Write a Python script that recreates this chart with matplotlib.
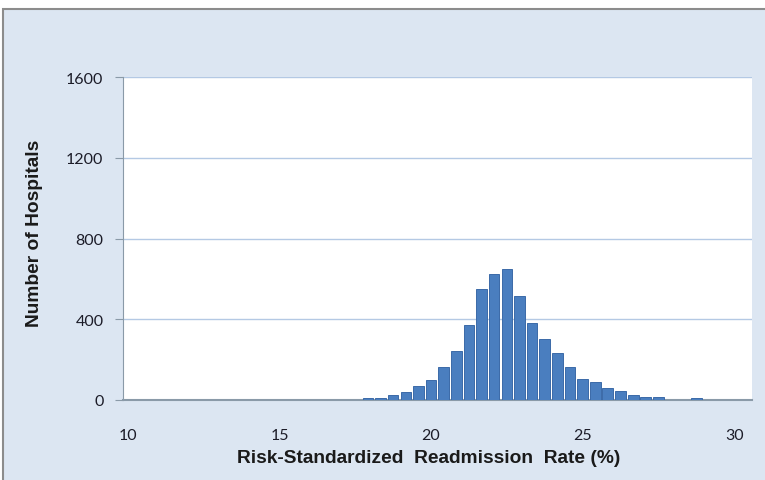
import matplotlib.pyplot as plt
from matplotlib.patches import Rectangle

# histogram bins (bin centre, % readmission) and counts
bin_centers = [17.92, 18.33, 18.75, 19.17, 19.58, 20.00, 20.42, 20.83, 21.25,
               21.67, 22.08, 22.50, 22.92, 23.33, 23.75, 24.17, 24.58, 25.00,
               25.42, 25.83, 26.25, 26.67, 27.08, 27.50, 27.92, 28.33, 28.75]
counts = [12, 12, 25, 40, 70, 100, 165, 245, 370,
          550, 625, 650, 515, 380, 300, 231, 165, 102,
          90, 58, 43, 27, 13, 13, 0, 0, 12]

x_ticks = [10, 15, 20, 25, 30]
y_ticks = [0, 400, 800, 1200, 1600]

W, H = 765, 481
fig = plt.figure(figsize=(W / 100, H / 100), dpi=100, facecolor='white')

# light blue chart area with grey frame
fig.patches.append(Rectangle((3 / W, -0.01), 1.0, 1 - 10 / H + 0.01,
                             transform=fig.transFigure, facecolor='#dce6f2',
                             edgecolor='#8c8c8c', linewidth=1.5, zorder=-1))

ax = fig.add_axes([123 / W, 1 - 401 / H, (752 - 123) / W, (401 - 78) / H])
ax.set_zorder(1)
ax.set_facecolor('white')

ax.bar(bin_centers, counts, width=0.35, color='#4a7ebf', edgecolor='#3b6aa8',
       linewidth=0.7, zorder=3)

ax.set_xlim(9.835, 30.59)
ax.set_ylim(0, 1600)
ax.set_xticks(x_ticks)
ax.set_yticks(y_ticks)
ax.yaxis.grid(True, color='#b4c9e4', linewidth=1.0, zorder=0)
ax.set_axisbelow(True)

for side in ['top', 'right']:
    ax.spines[side].set_visible(False)
ax.spines['left'].set_color('#8a9aa8')
ax.spines['bottom'].set_color('#8a9aa8')
ax.spines['bottom'].set_linewidth(1.5)

tick_font = dict(family=['Lato', 'DejaVu Sans'], size=11.5, color='#1c1c28')
ax.tick_params(axis='y', length=6, color='#8a9aa8', pad=8)
ax.tick_params(axis='x', length=0, pad=20)
for lab in ax.get_xticklabels() + ax.get_yticklabels():
    lab.set_fontfamily(tick_font['family'])
    lab.set_fontsize(tick_font['size'])
    lab.set_color(tick_font['color'])

label_font = dict(family=['Liberation Sans', 'DejaVu Sans'],
                  size=13.8, weight='bold', color='#1a1a1a')
fig.text(429 / W, 1 - 459 / H, 'Risk-Standardized  Readmission  Rate (%)',
         ha='center', va='center', **label_font)
fig.text(35 / W, 1 - 233 / H, 'Number of Hospitals', rotation=90,
         ha='center', va='center', **label_font)

fig.savefig('out.png', dpi=100, facecolor=fig.get_facecolor())
